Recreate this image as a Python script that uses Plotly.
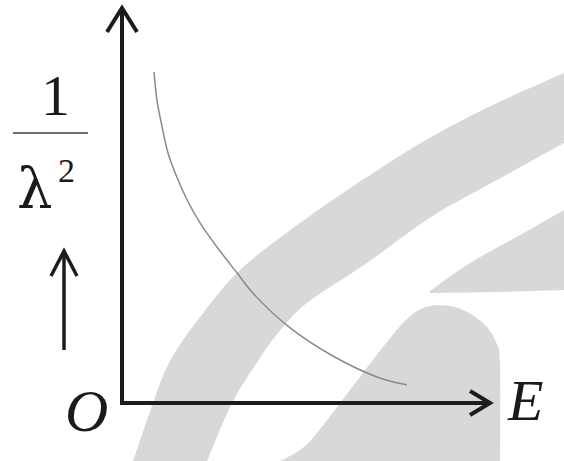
import plotly.graph_objects as go

# Curve values: 1/lambda^2 against E (arbitrary units)
energy = [0.87, 0.95, 1.09, 1.25, 1.49, 1.77, 2.12, 2.58, 3.13, 3.56, 4.57, 5.73, 6.93, 7.74]
inv_lambda_sq = [8.38, 7.67, 6.99, 6.33, 5.72, 5.14, 4.56, 3.95, 3.29, 2.78, 1.90, 1.19, 0.66, 0.46]

X_MAX = 10.0
Y_MAX = 10.0

W, H = 564, 461
ML, MR, MT, MB = 122, 74, 8, 58
PW, PH = W - ML - MR, H - MT - MB


def px(x, y):
    """Pixel position -> paper fraction."""
    return (x - ML) / PW, (H - MB - y) / PH


def catmull(points, n=12):
    out = []
    pts = [points[0]] + points + [points[-1]]
    for i in range(1, len(pts) - 2):
        p0, p1, p2, p3 = pts[i - 1], pts[i], pts[i + 1], pts[i + 2]
        for k in range(n):
            t = k / n
            t2, t3 = t * t, t * t * t
            x = 0.5 * ((2 * p1[0]) + (-p0[0] + p2[0]) * t
                       + (2 * p0[0] - 5 * p1[0] + 4 * p2[0] - p3[0]) * t2
                       + (-p0[0] + 3 * p1[0] - 3 * p2[0] + p3[0]) * t3)
            y = 0.5 * ((2 * p1[1]) + (-p0[1] + p2[1]) * t
                       + (2 * p0[1] - 5 * p1[1] + 4 * p2[1] - p3[1]) * t2
                       + (-p0[1] + 3 * p1[1] - 3 * p2[1] + p3[1]) * t3)
            out.append((x, y))
    out.append(points[-1])
    return out


def polyline(pts, close=False):
    coords = [px(x, y) for x, y in pts]
    d = "M " + " L ".join(f"{a:.4f},{b:.4f}" for a, b in coords)
    return d + (" Z" if close else "")


def outline_path(*segments):
    pts = []
    for seg, smooth in segments:
        pts += catmull(seg) if smooth else seg
    return polyline(pts, close=True)


# light grey background emblem
band_outer = [(133, 461), (153, 403), (170, 361), (200, 317), (240, 270), (300, 223),
              (367, 177), (431, 137), (497, 103), (564, 73)]
band_inner = [(564, 143), (497, 180), (431, 217), (367, 263), (307, 303), (278, 333),
              (258, 361), (232, 403), (207, 461)]
wedge_top = [(430, 291), (470, 263), (520, 235), (564, 210)]
wedge_bottom = [(564, 290), (500, 292), (430, 293)]
dome = [(280, 461), (300, 450), (317, 433), (350, 390), (383, 347), (408, 318),
        (430, 306), (458, 308), (483, 323), (496, 342), (500, 365), (500, 461)]

GREY = "#d8d8d8"
shapes = [
    dict(type="path", xref="paper", yref="paper", layer="below", line_width=0,
         fillcolor=GREY, path=outline_path((band_outer, True), (band_inner, True))),
    dict(type="path", xref="paper", yref="paper", layer="below", line_width=0,
         fillcolor=GREY, path=outline_path((wedge_top, True), (wedge_bottom, False))),
    dict(type="path", xref="paper", yref="paper", layer="below", line_width=0,
         fillcolor=GREY, path=outline_path((dome, True))),
]

AX = "#1c1c1c"
# axes with open arrowheads (paper-referenced so nothing is clipped)
ox, oy = ML, H - MB
shapes += [
    dict(type="path", xref="paper", yref="paper",
         path=polyline([(ox, oy + 2), (ox, MT + 2)]), line=dict(color=AX, width=4)),
    dict(type="path", xref="paper", yref="paper",
         path=polyline([(ox - 2, oy), (W - MR - 2, oy)]), line=dict(color=AX, width=4)),
    dict(type="path", xref="paper", yref="paper",
         path=polyline([(ox - 15, MT + 24), (ox, MT), (ox + 15, MT + 24)]),
         line=dict(color=AX, width=4)),
    dict(type="path", xref="paper", yref="paper",
         path=polyline([(W - MR - 20, oy - 12), (W - MR, oy), (W - MR - 20, oy + 12)]),
         line=dict(color=AX, width=4)),
]

# fraction bar of the y label and the small upward arrow
shapes.append(dict(type="path", xref="paper", yref="paper",
                   path=polyline([(13, 133), (88, 133)]),
                   line=dict(color="#6e6e6e", width=2)))
shapes.append(dict(type="path", xref="paper", yref="paper",
                   path=polyline([(64, 350), (64, 253)]),
                   line=dict(color=AX, width=3.5)))
shapes.append(dict(type="path", xref="paper", yref="paper",
                   path=polyline([(51, 276), (64, 251), (77, 276)]),
                   line=dict(color=AX, width=3.5)))

FONT = "Liberation Serif"


def label(text, x, y, size, family=FONT, color="#1a1a1a"):
    xp, yp = px(x, y)
    return dict(text=text, x=xp, y=yp, xref="paper", yref="paper", showarrow=False,
                xanchor="center", yanchor="middle",
                font=dict(family=family, size=size, color=color))


annotations = [
    label("1", 55, 96, 58),
    label("λ", 35, 188, 56, family="DejaVu Serif"),
    label("2", 66, 170, 34),
    label("<i>O</i>", 86, 411, 60),
    label("<i>E</i>", 525, 400, 58),
]

fig = go.Figure()
fig.add_trace(go.Scatter(x=energy, y=inv_lambda_sq, mode="lines",
                         line=dict(color="#8a8a8a", width=1.5, shape="spline", smoothing=1.0),
                         hoverinfo="skip", showlegend=False, cliponaxis=False))

fig.update_layout(
    width=W, height=H, autosize=False,
    margin=dict(l=ML, r=MR, t=MT, b=MB),
    paper_bgcolor="white", plot_bgcolor="rgba(0,0,0,0)",
    xaxis=dict(range=[0, X_MAX], visible=False, fixedrange=True),
    yaxis=dict(range=[0, Y_MAX], visible=False, fixedrange=True),
    shapes=shapes, annotations=annotations, showlegend=False,
)

fig.write_html("out.html")
